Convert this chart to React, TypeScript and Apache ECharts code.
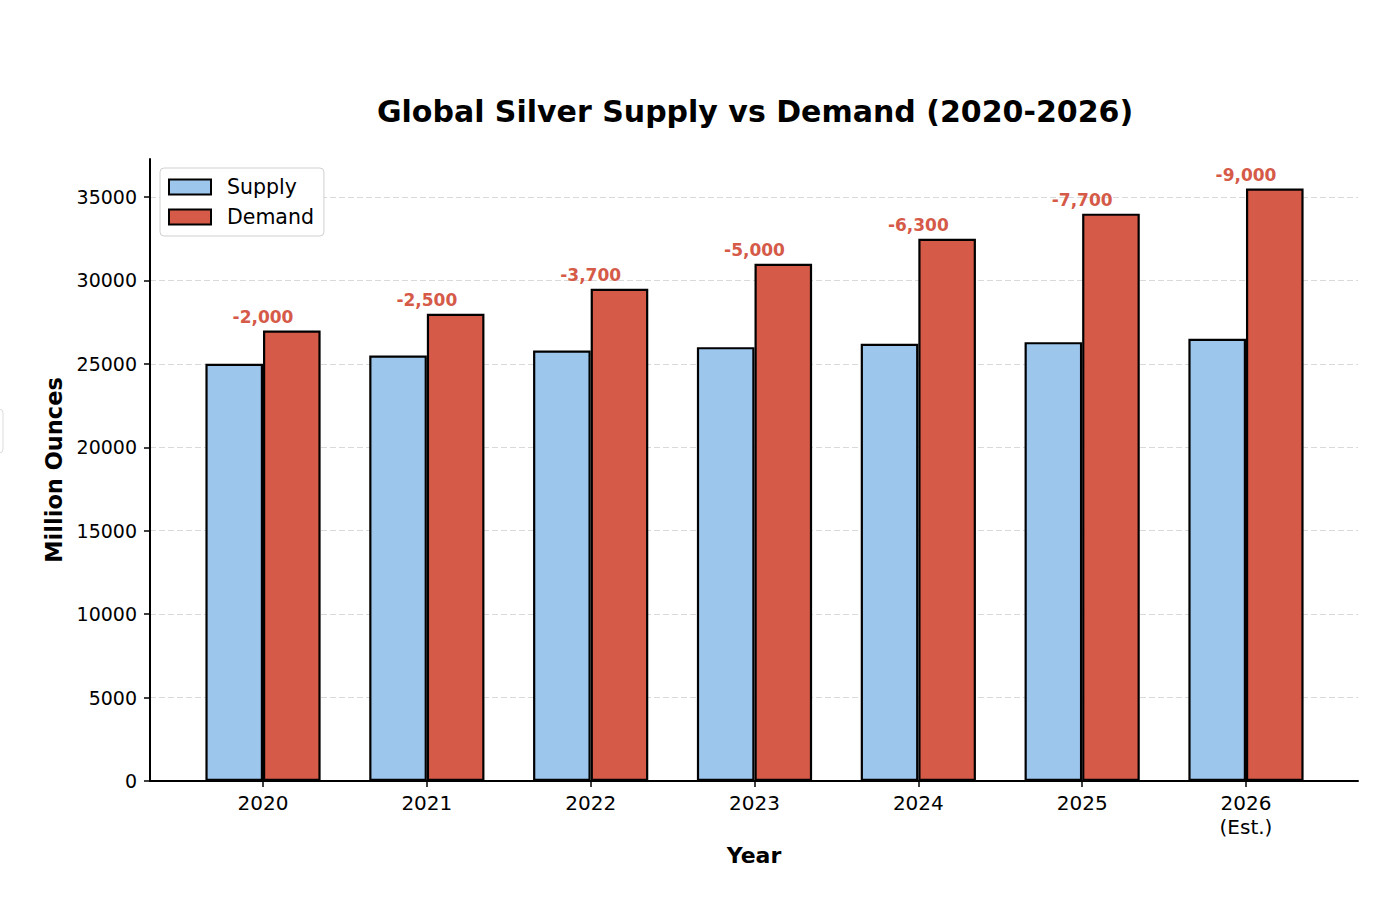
import React, { useEffect, useRef } from "react";
import * as echarts from "echarts";

const years = ["2020", "2021", "2022", "2023", "2024", "2025", "2026\n(Est.)"];
const supply = [25000, 25500, 25800, 26000, 26200, 26300, 26500];
const demand = [27000, 28000, 29500, 31000, 32500, 34000, 35500];
const yTicks = [0, 5000, 10000, 15000, 20000, 25000, 30000, 35000];

const FONT = "DejaVu Sans";
const SUPPLY_COLOR = "#9DC6EC";
const DEMAND_COLOR = "#D55A48";
const Y_MAX = 37275;

export default function App() {
  const ref = useRef<HTMLDivElement>(null);
  useEffect(() => {
    document.body.style.margin = "0";
    const chart = echarts.init(ref.current!, null, { renderer: "svg" });
    const gaps = supply.map((s, i) => s - demand[i]);
    const option: any = {
      animation: false,
      backgroundColor: "#ffffff",
      textStyle: { fontFamily: FONT },
      title: {
        text: "Global Silver Supply vs Demand (2020-2026)",
        left: 750,
        top: 91,
        textAlign: "center",
        textStyle: { fontFamily: FONT, fontWeight: "bold", fontSize: 30, color: "#000" },
      },
      legend: {
        orient: "vertical",
        left: 160,
        top: 168,
        padding: [8, 10, 8, 8],
        itemWidth: 42,
        itemHeight: 15,
        itemGap: 8,
        icon: "rect",
        borderColor: "#d0d0d0",
        borderWidth: 1,
        borderRadius: 4,
        backgroundColor: "#fff",
        textStyle: { fontFamily: FONT, fontSize: 20.5, color: "#000", lineHeight: 22, padding: [0, 0, 0, 11] },
        data: ["Supply", "Demand"],
      },
      grid: [
        { left: 150, right: 18, top: 159, bottom: 126 },
        { left: 181.1, right: 48.1, top: 159, bottom: 126 },
      ],
      xAxis: [
        {
          type: "value",
          gridIndex: 0,
          min: 0,
          max: 1,
          z: 10,
          axisLine: { show: true, lineStyle: { color: "#000", width: 2 } },
          axisTick: { show: false },
          axisLabel: { show: false },
          splitLine: { show: false },
          name: "Year",
          nameLocation: "middle",
          nameGap: 63,
          nameTextStyle: { fontFamily: FONT, fontWeight: "bold", fontSize: 22, color: "#000" },
        },
        {
          type: "category",
          gridIndex: 1,
          data: years,
          axisLine: { show: false },
          axisTick: { show: true, alignWithLabel: true, length: 6, lineStyle: { color: "#000", width: 1.5 } },
          axisLabel: { fontFamily: FONT, fontSize: 20, color: "#000", margin: 10, lineHeight: 24 },
          splitLine: { show: false },
        },
      ],
      yAxis: [
        {
          type: "value",
          gridIndex: 0,
          min: 0,
          max: Y_MAX,
          interval: 5000,
          axisLine: { show: true, lineStyle: { color: "#000", width: 2 } },
          axisTick: { show: true, length: 6, customValues: yTicks, lineStyle: { color: "#000", width: 1.5 } },
          axisLabel: {
            fontFamily: FONT,
            fontSize: 19,
            color: "#000",
            margin: 13,
            customValues: yTicks,
            formatter: (v: number) => (yTicks.includes(v) ? String(v) : ""),
          },
          splitLine: {
            show: true,
            showMinLine: false,
            lineStyle: { color: "#d9d9d9", width: 1, type: [6, 3] },
          },
          name: "Million Ounces",
          nameLocation: "middle",
          nameGap: 79,
          nameTextStyle: { fontFamily: FONT, fontWeight: "bold", fontSize: 22.5, color: "#000" },
        },
        {
          type: "value",
          gridIndex: 1,
          min: 0,
          max: Y_MAX,
          show: false,
          splitLine: { show: false },
        },
      ],
      series: [
        {
          name: "Supply",
          type: "bar",
          xAxisIndex: 1,
          yAxisIndex: 1,
          data: supply,
          barWidth: 57.6,
          barGap: "0%",
          itemStyle: { color: SUPPLY_COLOR, borderColor: "#000", borderWidth: 2.2 },
        },
        {
          name: "Demand",
          type: "bar",
          xAxisIndex: 1,
          yAxisIndex: 1,
          data: demand,
          barWidth: 57.6,
          barGap: "0%",
          itemStyle: { color: DEMAND_COLOR, borderColor: "#000", borderWidth: 2.2 },
          label: {
            show: true,
            position: "top",
            distance: 5,
            offset: [-28.8, 0],
            fontFamily: FONT,
            fontWeight: "bold",
            fontSize: 17,
            color: DEMAND_COLOR,
            formatter: (p: any) => {
              const g = gaps[p.dataIndex];
              return (g < 0 ? "-" : "") + Math.abs(g).toLocaleString("en-US");
            },
          },
        },
      ],
      graphic: [
        {
          type: "rect",
          shape: { x: -8, y: 409, width: 11, height: 44, r: 4 },
          style: { fill: "#fff", stroke: "#dcdcdc", lineWidth: 1 },
          silent: true,
        },
      ],
    };
    chart.setOption(option);
    return () => chart.dispose();
  }, []);
  return <div ref={ref} style={{ position: "absolute", left: 0, top: 0, width: 1376, height: 907 }} />;
}
